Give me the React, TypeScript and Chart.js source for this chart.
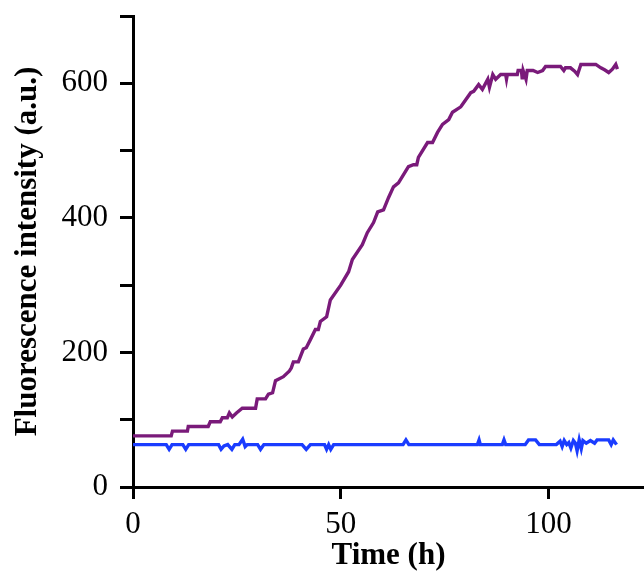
import React, { useEffect, useRef } from "react";
import { Chart, registerables } from "chart.js";

Chart.register(...registerables);

const purpleTime = [0, 9.2, 9.5, 13.1, 13.3, 18.1, 18.6, 21.0, 21.5, 22.7, 23.2, 23.9, 24.9, 26.3, 29.5, 29.9, 31.9, 32.6, 33.6, 34.3, 36.2, 37.6, 38.1, 38.6, 39.8, 41.0, 41.7, 42.7, 43.9, 44.6, 45.1, 46.6, 47.5, 50.0, 51.9, 52.8, 55.2, 56.4, 57.9, 58.9, 60.3, 61.5, 62.7, 63.9, 66.3, 67.5, 68.3, 68.7, 70.9, 72.1, 73.3, 74.5, 76.0, 76.9, 78.9, 81.3, 82.0, 83.2, 84.1, 85.4, 85.8, 86.6, 87.3, 88.5, 89.7, 89.9, 90.1, 92.5, 92.7, 93.5, 93.7, 93.9, 94.6, 94.9, 96.3, 97.4, 98.6, 99.3, 102.9, 103.7, 104.1, 105.3, 106.3, 107.0, 107.8, 111.4, 112.6, 113.5, 114.5, 115.4, 116.2, 116.6];
const purpleValues = [76, 76, 83, 83, 90, 90, 97, 97, 103, 103, 110, 104, 110, 117, 117, 131, 131, 138, 140, 158, 164, 172, 177, 186, 186, 205, 207, 219, 234, 234, 246, 253, 278, 300, 320, 338, 360, 378, 393, 409, 412, 430, 446, 452, 476, 479, 479, 490, 512, 512, 527, 539, 546, 557, 565, 586, 588, 598, 591, 606, 594, 613, 606, 613, 613, 606, 613, 613, 619, 619, 606, 619, 606, 619, 619, 616, 619, 625, 625, 619, 623, 623, 618, 613, 628, 628, 623, 620, 616, 621, 628, 621];

const blueTime = [0, 8.0, 8.7, 9.4, 12.0, 12.7, 13.4, 20.6, 21.2, 21.9, 22.8, 23.8, 24.5, 25.5, 26.4, 27.0, 27.5, 30.0, 30.7, 31.5, 40.7, 41.7, 42.7, 46.1, 46.6, 47.1, 47.6, 48.3, 65.0, 65.7, 66.4, 82.9, 83.3, 83.6, 88.9, 89.3, 89.7, 94.4, 95.2, 96.9, 97.8, 101.9, 102.8, 103.3, 103.8, 104.4, 104.9, 105.4, 106.0, 106.5, 106.9, 107.4, 107.9, 108.3, 109.1, 110.1, 111.1, 111.7, 114.5, 115.1, 115.6, 116.4];
const blueValues = [63, 63, 56, 63, 63, 56, 63, 63, 56, 61, 63, 56, 63, 63, 71, 60, 63, 63, 56, 63, 63, 56, 63, 63, 56, 63, 56, 63, 63, 70, 63, 63, 70, 63, 63, 70, 63, 63, 70, 70, 63, 63, 68, 60, 69, 63, 66, 58, 69, 65, 54, 70, 57, 69, 65, 69, 65, 70, 70, 63, 70, 63];

const yTickValues = [0, 200, 400, 600];
const xTitle = "Time (h)";
const yTitle = "Fluorescence intensity (a.u.)";

const FONT = "'Liberation Serif', 'Times New Roman', serif";

export default function App() {
  const ref = useRef<HTMLCanvasElement | null>(null);

  useEffect(() => {
    document.body.style.margin = "0";
    const canvas = ref.current;
    if (!canvas) return;
    const chart = new Chart(canvas, {
      type: "line",
      data: {
        datasets: [
          {
            label: "purple",
            data: purpleTime.map((t, i) => ({ x: t, y: purpleValues[i] })),
            borderColor: "rgb(122, 26, 122)",
            borderWidth: 3.4,
            pointRadius: 0,
            tension: 0,
            fill: false,
          },
          {
            label: "blue",
            data: blueTime.map((t, i) => ({ x: t, y: blueValues[i] })),
            borderColor: "rgb(26, 60, 255)",
            borderWidth: 3.4,
            pointRadius: 0,
            tension: 0,
            fill: false,
          },
        ],
      },
      options: {
        responsive: false,
        animation: false,
        layout: { padding: { top: 16, right: 0, left: 0, bottom: 0 } },
        plugins: { legend: { display: false }, tooltip: { enabled: false } },
        scales: {
          x: {
            type: "linear",
            min: 0,
            max: 123,
            afterFit: (s: any) => {
              s.height = 90;
              s.paddingLeft = 0;
              s.paddingRight = 0;
            },
            border: { display: true, color: "#000", width: 3 },
            grid: { drawOnChartArea: false, color: "#000", lineWidth: 3, tickLength: 12 },
            ticks: {
              stepSize: 50,
              includeBounds: false,
              color: "#000",
              padding: 10,
              maxRotation: 0,
              font: { family: FONT, size: 31, lineHeight: 1 },
            },
            title: {
              display: true,
              text: xTitle,
              color: "#000",
              font: { family: FONT, size: 31, weight: "bold", lineHeight: 1 },
              padding: { top: 0, bottom: 6 },
            },
          },
          y: {
            type: "linear",
            min: 0,
            max: 700,
            afterFit: (s: any) => {
              s.width = 133;
              s.paddingTop = 0;
              s.paddingBottom = 0;
            },
            border: { display: true, color: "#000", width: 3 },
            grid: { drawOnChartArea: false, color: "#000", lineWidth: 3, tickLength: 13 },
            ticks: {
              stepSize: 100,
              color: "#000",
              padding: 12,
              font: { family: FONT, size: 31, lineHeight: 1 },
              callback: (v: any) => (yTickValues.includes(Number(v)) ? String(v) : ""),
            },
            title: {
              display: true,
              text: yTitle,
              color: "#000",
              font: { family: FONT, size: 31, weight: "bold", lineHeight: 1 },
              padding: { top: 12, bottom: 0 },
            },
          },
        },
      },
    });
    return () => chart.destroy();
  }, []);

  return (
    <div style={{ width: 644, height: 577 }}>
      <canvas ref={ref} width={644} height={577} style={{ display: "block" }} />
    </div>
  );
}
